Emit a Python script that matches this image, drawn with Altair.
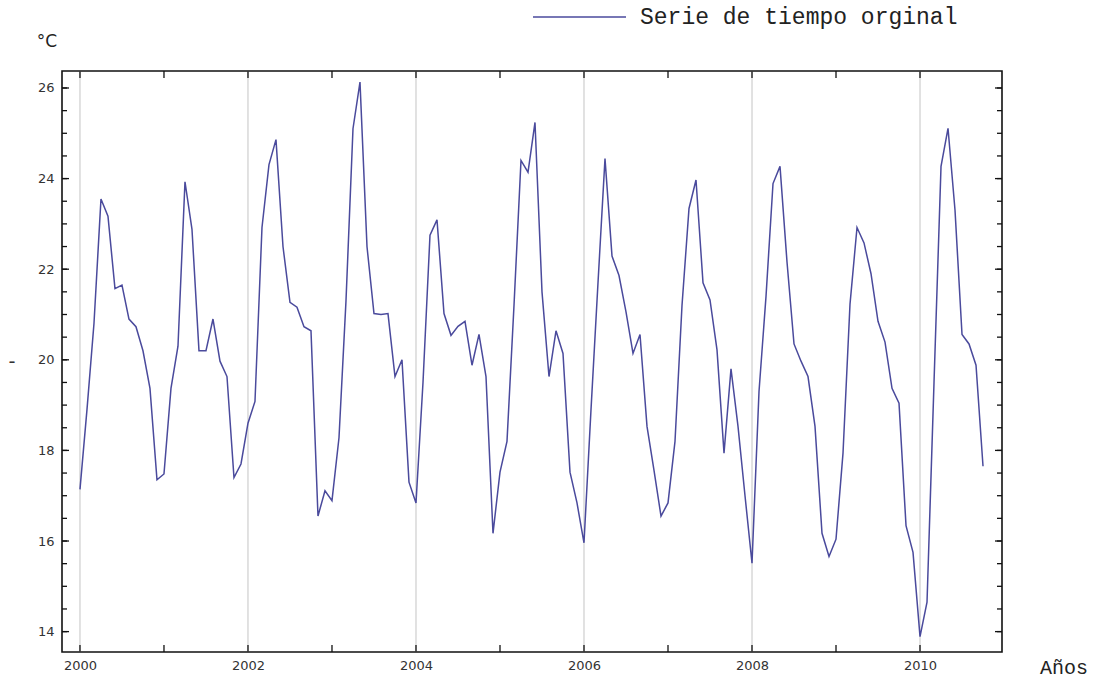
import altair as alt
import pandas as pd

# Monthly mean temperature (°C), January 2000 - October 2010
temp_2000 = [17.14, 18.9, 20.8, 23.55, 23.17, 21.57, 21.65, 20.9, 20.73, 20.2, 19.37, 17.35]
temp_2001 = [17.48, 19.37, 20.3, 23.93, 22.88, 20.2, 20.2, 20.9, 19.97, 19.63, 17.4, 17.7]
temp_2002 = [18.6, 19.08, 22.92, 24.31, 24.86, 22.5, 21.27, 21.16, 20.73, 20.64, 16.55, 17.11]
temp_2003 = [16.89, 18.28, 21.3, 25.1, 26.13, 22.5, 21.02, 21.0, 21.02, 19.63, 20.0, 17.3]
temp_2004 = [16.84, 19.5, 22.75, 23.09, 21.02, 20.54, 20.74, 20.85, 19.88, 20.56, 19.63, 16.17]
temp_2005 = [17.52, 18.2, 21.2, 24.4, 24.14, 25.24, 21.5, 19.63, 20.64, 20.14, 17.52, 16.84]
temp_2006 = [15.96, 18.9, 21.7, 24.44, 22.29, 21.86, 21.06, 20.14, 20.56, 18.53, 17.56, 16.55]
temp_2007 = [16.84, 18.2, 21.2, 23.34, 23.97, 21.7, 21.32, 20.22, 17.94, 19.8, 18.53, 17.0]
temp_2008 = [15.51, 19.3, 21.4, 23.89, 24.27, 22.16, 20.35, 19.97, 19.63, 18.53, 16.17, 15.66]
temp_2009 = [16.04, 17.94, 21.23, 22.92, 22.58, 21.9, 20.85, 20.39, 19.37, 19.04, 16.34, 15.75]
temp_2010 = [13.89, 14.65, 19.5, 24.27, 25.11, 23.3, 20.56, 20.35, 19.88, 17.65]

start_year = 2000
x_labels = [2000, 2002, 2004, 2006, 2008, 2010]
x_ticks = list(range(2000, 2011))
y_labels = [14, 16, 18, 20, 22, 24, 26]
y_minor = [14 + 0.5 * i for i in range(25)]

series = (temp_2000 + temp_2001 + temp_2002 + temp_2003 + temp_2004 + temp_2005
          + temp_2006 + temp_2007 + temp_2008 + temp_2009 + temp_2010)
df = pd.DataFrame({
    "t": [start_year + k / 12 for k in range(len(series))],
    "v": series,
})

W, H = 940, 581
LINE = "#4a4a9c"
x_scale = alt.Scale(domain=[1999.786, 2010.976], nice=False, zero=False)
y_scale = alt.Scale(domain=[13.55, 26.375], nice=False, zero=False)

x_axis = alt.Axis(
    values=x_labels, format="d", ticks=False, domain=False, grid=False,
    labelFont="DejaVu Sans", labelFontSize=13, labelColor="#333",
    labelPadding=7, title=None)
y_axis = alt.Axis(
    values=y_labels, format="d", ticks=False, domain=False, grid=False,
    labelFont="DejaVu Sans", labelFontSize=13, labelColor="#333",
    labelPadding=8, title=None)

X = lambda: alt.X("t:Q", scale=x_scale, axis=x_axis)
Y = lambda: alt.Y("v:Q", scale=y_scale, axis=y_axis)

grid = alt.Chart(pd.DataFrame({"t": x_labels})).mark_rule(
    color="#c4c4c4", strokeWidth=1
).encode(x=X())

line = alt.Chart(df).mark_line(color=LINE, strokeWidth=1.5).encode(x=X(), y=Y())

xt = pd.DataFrame({"t": x_ticks})
tick_bottom = alt.Chart(xt).mark_rule(color="#111", strokeWidth=1.3).encode(
    x=X(), y=alt.value(H), y2=alt.value(H - 7))
tick_top = alt.Chart(xt).mark_rule(color="#111", strokeWidth=1.3).encode(
    x=X(), y=alt.value(0), y2=alt.value(7))

ym = pd.DataFrame({"v": y_minor})
tick_left = alt.Chart(ym).mark_rule(color="#111", strokeWidth=1.3).encode(
    y=Y(), x=alt.value(0), x2=alt.value(5))
tick_right = alt.Chart(ym).mark_rule(color="#111", strokeWidth=1.3).encode(
    y=Y(), x=alt.value(W), x2=alt.value(W - 5))

yM = pd.DataFrame({"v": y_labels})
tick_left_major = alt.Chart(yM).mark_rule(color="#111", strokeWidth=1.3).encode(
    y=Y(), x=alt.value(0), x2=alt.value(7))
tick_right_major = alt.Chart(yM).mark_rule(color="#111", strokeWidth=1.3).encode(
    y=Y(), x=alt.value(W), x2=alt.value(W - 7))

y_title = alt.Chart(pd.DataFrame({"s": ["°C"]})).mark_text(
    font="DejaVu Sans", fontSize=17, color="#222", align="center", baseline="middle"
).encode(text="s:N", x=alt.value(-15), y=alt.value(-29))

x_title = alt.Chart(pd.DataFrame({"s": ["Años"]})).mark_text(
    font="Liberation Mono", fontSize=20, color="#222", align="center", baseline="middle"
).encode(text="s:N", x=alt.value(1002), y=alt.value(597))

dash = alt.Chart(pd.DataFrame({"s": ["–"]})).mark_text(
    font="DejaVu Sans", fontSize=13, fontWeight="bold", color="#333",
    align="center", baseline="middle"
).encode(text="s:N", x=alt.value(-50), y=alt.value(291))

legend_line = alt.Chart(pd.DataFrame({"s": ["Serie de tiempo orginal"]})).mark_rule(
    color=LINE, strokeWidth=1.5
).encode(x=alt.value(471), x2=alt.value(564), y=alt.value(-54))

legend_text = alt.Chart(pd.DataFrame({"s": ["Serie de tiempo orginal"]})).mark_text(
    font="Liberation Mono", fontSize=23, color="#222", align="left", baseline="middle"
).encode(text="s:N", x=alt.value(578), y=alt.value(-54))

chart = alt.layer(
    grid, line, tick_bottom, tick_top, tick_left, tick_right,
    tick_left_major, tick_right_major,
    y_title, x_title, dash, legend_line, legend_text,
).properties(
    width=W, height=H,
    autosize=alt.AutoSizeParams(type="none"),
    padding={"left": 62, "top": 71, "right": 101, "bottom": 30},
    background="white",
).configure_view(
    stroke="#111", strokeWidth=1.6
)

chart.save("out.html", embed_options={"renderer": "svg", "actions": False})
